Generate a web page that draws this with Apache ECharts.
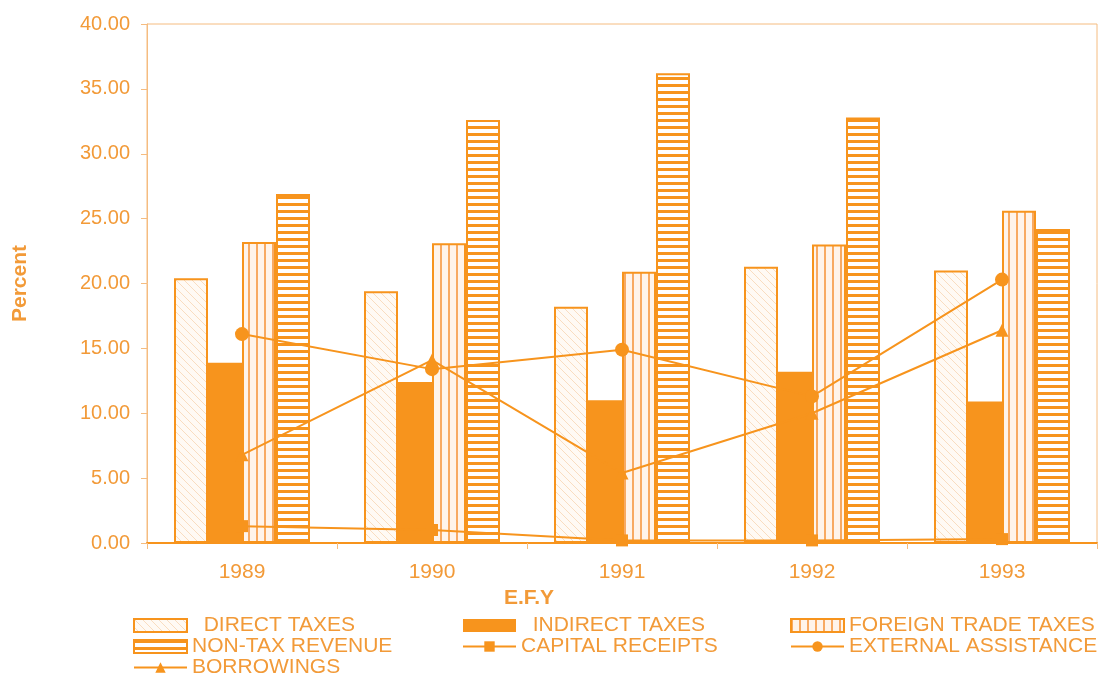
<!DOCTYPE html>
<html>
<head>
<meta charset="utf-8">
<script src="https://cdn.jsdelivr.net/npm/echarts@6/dist/echarts.min.js"></script>
<style>
html,body{margin:0;padding:0;background:#fff;}
#chart{width:1108px;height:675px;}
</style>
</head>
<body>
<div id="chart"></div>
<script>
const years = ['1989', '1990', '1991', '1992', '1993'];
const directTaxes = [20.4, 19.4, 18.2, 21.3, 21.0];
const indirectTaxes = [13.9, 12.4, 11.0, 13.2, 10.9];
const foreignTradeTaxes = [23.2, 23.1, 20.9, 23.0, 25.6];
const nonTaxRevenue = [26.9, 32.6, 36.2, 32.8, 24.2];
const capitalReceipts = [1.3, 1.0, 0.2, 0.2, 0.3];
const externalAssistance = [16.1, 13.4, 14.9, 11.3, 20.3];
const borrowings = [6.8, 14.1, 5.4, 10.0, 16.4];

const ORANGE = '#F7941D';
const TEXT = '#F29A38';
const AXIS = '#F5BC80';
const FONT = '"Liberation Sans", Arial, sans-serif';

function makePattern(w, h, draw) {
  const c = document.createElement('canvas');
  c.width = w; c.height = h;
  const ctx = c.getContext('2d');
  draw(ctx, w, h);
  return { image: c, repeat: 'repeat' };
}
const diagPattern = makePattern(8, 8, (ctx, w, h) => {
  ctx.fillStyle = '#FFFAF4'; ctx.fillRect(0, 0, w, h);
  ctx.strokeStyle = '#F9DDC0'; ctx.lineWidth = 1;
  ctx.beginPath(); ctx.moveTo(-1, -1); ctx.lineTo(w + 1, h + 1); ctx.stroke();
});
const vertPattern = makePattern(8, 4, (ctx, w, h) => {
  ctx.fillStyle = '#FFF4EA'; ctx.fillRect(0, 0, w, h);
  ctx.fillStyle = '#F8AA62'; ctx.fillRect(0, 0, 2, h);
});
const horizPattern = makePattern(4, 7, (ctx, w, h) => {
  ctx.fillStyle = '#FFFFFF'; ctx.fillRect(0, 0, w, h);
  ctx.fillStyle = ORANGE; ctx.fillRect(0, 0, w, 3);
});

const chart = echarts.init(document.getElementById('chart'), null, { renderer: 'canvas' });

const legendBase = {
  orient: 'vertical',
  top: 615,
  height: 120,
  padding: 0,
  itemWidth: 53,
  itemHeight: 13,
  itemGap: 0,
  selectedMode: false,
  textStyle: { color: TEXT, fontSize: 21, fontFamily: FONT, lineHeight: 19 },
  formatter: name => (name === 'DIRECT TAXES' || name === 'INDIRECT TAXES') ? '  ' + name : name
};

const barBase = { type: 'bar', barWidth: 34, barGap: '0%' };
const lineBase = {
  type: 'line',
  z: 5,
  lineStyle: { color: ORANGE, width: 2 },
  itemStyle: { color: ORANGE },
  symbolKeepAspect: true
};

chart.setOption({
  animation: false,
  backgroundColor: '#ffffff',
  title: [{
    text: 'E.F.Y',
    left: 524,
    top: 583,
    textAlign: 'center',
    textStyle: { color: TEXT, fontSize: 21, fontWeight: 'bold', fontFamily: FONT }
  }],
  grid: {
    left: 147, right: 11, top: 24, bottom: 132,
    show: true, borderColor: AXIS, borderWidth: 1
  },
  legend: [
    Object.assign({}, legendBase, { left: 133, data: [
      { name: 'DIRECT TAXES', icon: 'rect' },
      { name: 'NON-TAX REVENUE', icon: 'rect' },
      { name: 'BORROWINGS' }
    ]}),
    Object.assign({}, legendBase, { left: 462, data: [
      { name: 'INDIRECT TAXES', icon: 'rect' },
      { name: 'CAPITAL RECEIPTS' }
    ]}),
    Object.assign({}, legendBase, { left: 790, data: [
      { name: 'FOREIGN TRADE TAXES', icon: 'rect' },
      { name: 'EXTERNAL ASSISTANCE' }
    ]})
  ],
  xAxis: {
    type: 'category',
    data: years,
    axisLine: { lineStyle: { color: ORANGE, width: 2 } },
    axisTick: { show: true, length: 6, lineStyle: { color: AXIS } },
    axisLabel: { color: TEXT, fontSize: 21, fontFamily: FONT, margin: 19 }
  },
  yAxis: {
    type: 'value',
    min: 0, max: 40, interval: 5,
    name: 'Percent',
    nameLocation: 'middle',
    nameGap: 116,
    nameTextStyle: { color: TEXT, fontSize: 21, fontWeight: 'bold', fontFamily: FONT },
    axisLine: { show: true, lineStyle: { color: AXIS, width: 1 } },
    axisTick: { show: true, length: 6, lineStyle: { color: AXIS } },
    splitLine: { show: false },
    axisLabel: { color: TEXT, fontSize: 20, fontFamily: FONT, margin: 17, formatter: v => v.toFixed(2) }
  },
  series: [
    Object.assign({}, barBase, { name: 'DIRECT TAXES', data: directTaxes,
      itemStyle: { color: diagPattern, borderColor: ORANGE, borderWidth: 2 } }),
    Object.assign({}, barBase, { name: 'INDIRECT TAXES', data: indirectTaxes,
      itemStyle: { color: ORANGE } }),
    Object.assign({}, barBase, { name: 'FOREIGN TRADE TAXES', data: foreignTradeTaxes,
      itemStyle: { color: vertPattern, borderColor: ORANGE, borderWidth: 2 } }),
    Object.assign({}, barBase, { name: 'NON-TAX REVENUE', data: nonTaxRevenue,
      itemStyle: { color: horizPattern, borderColor: ORANGE, borderWidth: 2 } }),
    Object.assign({}, lineBase, { name: 'CAPITAL RECEIPTS', data: capitalReceipts,
      symbol: 'rect', symbolSize: 12 }),
    Object.assign({}, lineBase, { name: 'EXTERNAL ASSISTANCE', data: externalAssistance,
      symbol: 'circle', symbolSize: 14 }),
    Object.assign({}, lineBase, { name: 'BORROWINGS', data: borrowings,
      symbol: 'triangle', symbolSize: 13 })
  ]
});
</script>
</body>
</html>
